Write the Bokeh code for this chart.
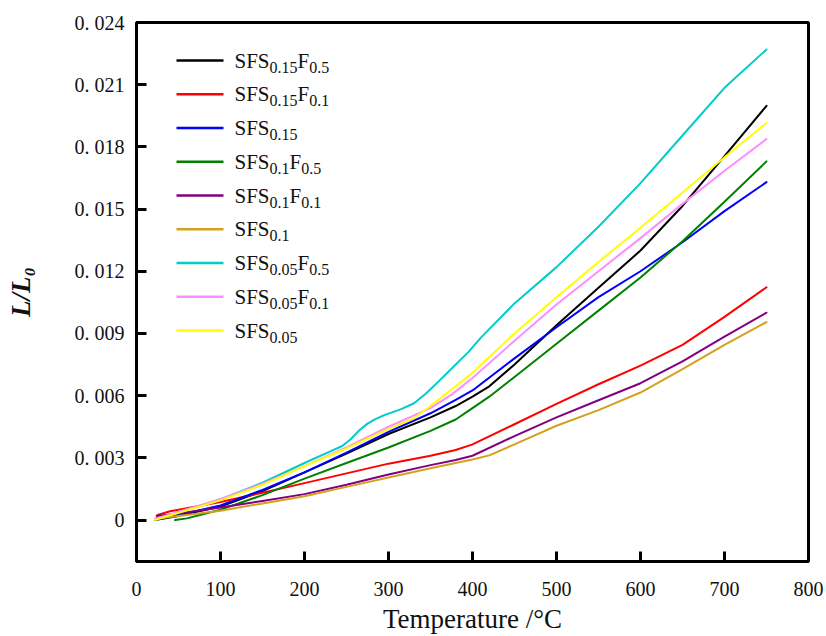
from bokeh.plotting import figure
from bokeh.models import Range1d, FixedTicker, CustomJSTickFormatter, Label, BoxAnnotation
from bokeh.embed import file_html
from bokeh.resources import INLINE

# ---------------- data (Temperature in degC, L/L0) ----------------
t_sfs015_f05 = [22, 50, 100, 150, 200, 250, 300, 350, 380, 400, 420, 450, 500, 550, 600, 650, 700, 750]
v_sfs015_f05 = [0.0, 0.0002, 0.00065, 0.0014, 0.0023, 0.0032, 0.00415, 0.00495, 0.0055, 0.00595,
                0.00645, 0.0075, 0.0094, 0.0112, 0.013, 0.01515, 0.01755, 0.01998]

t_sfs015_f01 = [25, 40, 50, 100, 150, 200, 250, 300, 350, 380, 400, 450, 500, 550, 600, 650, 700, 750]
v_sfs015_f01 = [0.00025, 0.00042, 0.0005, 0.00087, 0.00132, 0.00178, 0.00225, 0.00272, 0.0031, 0.00338,
                0.00365, 0.00462, 0.0056, 0.00655, 0.00745, 0.00845, 0.0098, 0.01123]

t_sfs015 = [22, 50, 100, 150, 200, 250, 300, 350, 380, 400, 450, 500, 550, 600, 650, 700, 750]
v_sfs015 = [0.00005, 0.00025, 0.0007, 0.00145, 0.0023, 0.00325, 0.00425, 0.00515, 0.0058, 0.00625,
            0.0078, 0.0093, 0.01075, 0.012, 0.0134, 0.0149, 0.0163]

t_sfs01_f05 = [46, 60, 100, 150, 200, 250, 300, 350, 380, 400, 420, 450, 500, 550, 600, 650, 700, 750]
v_sfs01_f05 = [0.0, 0.00008, 0.0005, 0.0012, 0.002, 0.00275, 0.0035, 0.0043, 0.00485, 0.0054,
               0.00595, 0.0069, 0.0085, 0.0101, 0.0117, 0.01345, 0.01535, 0.0173]

t_sfs01_f01 = [24, 50, 100, 150, 200, 250, 300, 350, 380, 400, 450, 500, 550, 600, 650, 700, 750]
v_sfs01_f01 = [0.0002, 0.00032, 0.0006, 0.00092, 0.00125, 0.0017, 0.0022, 0.00265, 0.0029, 0.0031,
               0.00405, 0.00495, 0.00578, 0.0066, 0.00765, 0.00885, 0.01]

t_sfs01 = [22, 50, 100, 150, 200, 250, 300, 350, 380, 400, 420, 450, 500, 550, 600, 650, 700, 750]
v_sfs01 = [0.00005, 0.0002, 0.00045, 0.0008, 0.00115, 0.0016, 0.00205, 0.0025, 0.00275, 0.00292,
           0.00312, 0.00365, 0.00455, 0.0053, 0.00615, 0.00728, 0.00845, 0.00955]

t_sfs005_f05 = [22, 50, 100, 150, 200, 230, 245, 255, 265, 275, 285, 295, 315, 330, 345, 360, 375, 395,
                410, 450, 500, 550, 600, 650, 700, 750]
v_sfs005_f05 = [0.00005, 0.00035, 0.001, 0.0018, 0.00275, 0.0033, 0.00357, 0.0039, 0.00432, 0.00465,
                0.00488, 0.00506, 0.00535, 0.00562, 0.00612, 0.0067, 0.0073, 0.0081,
                0.0088, 0.01045, 0.0122, 0.01415, 0.01625, 0.01855, 0.02085, 0.0227]

t_sfs005_f01 = [22, 50, 100, 150, 200, 250, 300, 350, 375, 400, 450, 500, 550, 600, 650, 700, 750]
v_sfs005_f01 = [0.00005, 0.0004, 0.001, 0.00175, 0.0026, 0.0035, 0.0045, 0.0054, 0.00605, 0.00685,
                0.00865, 0.0104, 0.012, 0.0136, 0.01525, 0.01685, 0.01838]

t_sfs005 = [22, 50, 100, 150, 200, 250, 300, 330, 350, 375, 400, 450, 500, 550, 600, 650, 700, 750]
v_sfs005 = [0.0, 0.00035, 0.00095, 0.0017, 0.0026, 0.00345, 0.0044, 0.0049, 0.0055, 0.0063, 0.0071,
            0.009, 0.01075, 0.01245, 0.0141, 0.0158, 0.0175, 0.01915]

series_t = [t_sfs015_f05, t_sfs015_f01, t_sfs015, t_sfs01_f05, t_sfs01_f01, t_sfs01,
            t_sfs005_f05, t_sfs005_f01, t_sfs005]
series_v = [v_sfs015_f05, v_sfs015_f01, v_sfs015, v_sfs01_f05, v_sfs01_f01, v_sfs01,
            v_sfs005_f05, v_sfs005_f01, v_sfs005]
colors = ["#000000", "#ff0000", "#0000ff", "#008000", "#800080", "#d4a020",
          "#00cccc", "#ff8cff", "#ffff00"]
# legend labels: (text, is_subscript) parts
labels = [
    [("SFS", 0), ("0.15", 1), ("F", 0), ("0.5", 1)],
    [("SFS", 0), ("0.15", 1), ("F", 0), ("0.1", 1)],
    [("SFS", 0), ("0.15", 1)],
    [("SFS", 0), ("0.1", 1), ("F", 0), ("0.5", 1)],
    [("SFS", 0), ("0.1", 1), ("F", 0), ("0.1", 1)],
    [("SFS", 0), ("0.1", 1)],
    [("SFS", 0), ("0.05", 1), ("F", 0), ("0.5", 1)],
    [("SFS", 0), ("0.05", 1), ("F", 0), ("0.1", 1)],
    [("SFS", 0), ("0.05", 1)],
]
x_ticks = [0, 100, 200, 300, 400, 500, 600, 700, 800]
y_ticks = [0, 0.003, 0.006, 0.009, 0.012, 0.015, 0.018, 0.021, 0.024]

FONT = "Liberation Serif"

p = figure(width=826, height=636, output_backend="svg", toolbar_location=None,
           x_range=Range1d(0, 800), y_range=Range1d(-0.002, 0.024),
           min_border_left=136, min_border_right=18, min_border_top=22, min_border_bottom=74)
p.background_fill_color = "white"
p.border_fill_color = "white"
p.grid.visible = False
p.outline_line_color = "black"
p.outline_line_width = 3

for t, v, c in zip(series_t, series_v, colors):
    p.line(t, v, line_color=c, line_width=2, line_join="round", line_cap="round")

for ax in (p.xaxis[0], p.yaxis[0]):
    ax.axis_line_width = 3
    ax.axis_line_color = "black"
    ax.major_tick_in = 10
    ax.major_tick_out = 0
    ax.major_tick_line_width = 3
    ax.minor_tick_line_color = None
    ax.major_label_text_font = FONT
    ax.major_label_text_font_size = "20px"
    ax.major_label_text_color = "#111111"
    ax.axis_label_text_font = FONT
    ax.axis_label_text_color = "#111111"

p.xaxis.ticker = FixedTicker(ticks=x_ticks)
p.yaxis.ticker = FixedTicker(ticks=y_ticks)
p.yaxis.formatter = CustomJSTickFormatter(
    code='if (tick == 0) { return "0"; } return "0. " + tick.toFixed(3).split(".")[1];')

p.xaxis.axis_label = "Temperature /\u00b0C"
p.xaxis.axis_label_text_font_size = "27px"
p.xaxis.axis_label_text_font_style = "normal"
p.xaxis.major_label_standoff = 20
p.xaxis.axis_label_standoff = 5

p.yaxis.axis_label = "L/L\u2080"
p.yaxis.axis_label_text_font_size = "27px"
p.yaxis.axis_label_text_font_style = "bold italic"
p.yaxis.major_label_standoff = 12
p.yaxis.axis_label_standoff = 36

# ---------------- legend (screen units relative to the frame) ----------------
WID = {"S": 0.556, "F": 0.556, "0": 0.5, "1": 0.5, "5": 0.5, ".": 0.25}
MAIN, SUB = 21, 16
frame_h = 540
for i, (parts, c) in enumerate(zip(labels, colors)):
    ly = 61 + i * 33.75 - 22  # from frame top
    sy = frame_h - ly
    p.add_layout(BoxAnnotation(left=40, right=87, bottom=sy - 1.3, top=sy + 1.3,
                               left_units="screen", right_units="screen",
                               bottom_units="screen", top_units="screen",
                               fill_color=c, fill_alpha=1.0, line_color=None))
    x = 98
    for text, sub in parts:
        size = SUB if sub else MAIN
        by = sy - (6.7 if sub else 0)
        p.add_layout(Label(x=x, y=by, x_units="screen", y_units="screen", text=text,
                           text_font=FONT, text_font_size=f"{size}px", text_color="#111111",
                           text_baseline="alphabetic", text_align="left"))
        x += sum(WID[ch] for ch in text) * size

open("out.html", "w").write(file_html(p, INLINE))
